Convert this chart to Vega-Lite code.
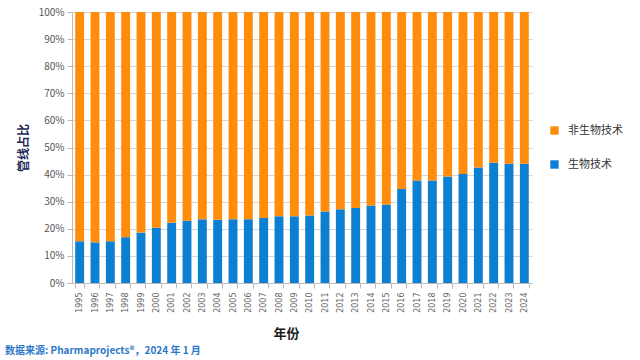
{
  "$schema": "https://vega.github.io/schema/vega-lite/v6.json",
  "autosize": "none",
  "width": 460,
  "height": 271,
  "padding": {"left": 72, "top": 12, "right": 108, "bottom": 77},
  "background": "white",
  "config": {
    "view": {"stroke": null},
    "font": "Noto Sans CJK SC"
  },
  "title": {
    "text": "数据来源: Pharmaprojects®，2024 年 1 月",
    "orient": "bottom",
    "anchor": "start",
    "frame": "group",
    "dx": -67,
    "offset": 6,
    "fontSize": 10,
    "fontWeight": "bold",
    "color": "#2a78c8",
    "font": "Noto Sans CJK SC"
  },
  "data": {
    "values": [
      {"year": "1995", "生物技术": 15.4, "非生物技术": 84.6},
      {"year": "1996", "生物技术": 15.0, "非生物技术": 85.0},
      {"year": "1997", "生物技术": 15.4, "非生物技术": 84.6},
      {"year": "1998", "生物技术": 16.9, "非生物技术": 83.1},
      {"year": "1999", "生物技术": 18.6, "非生物技术": 81.4},
      {"year": "2000", "生物技术": 20.4, "非生物技术": 79.6},
      {"year": "2001", "生物技术": 22.2, "非生物技术": 77.8},
      {"year": "2002", "生物技术": 23.0, "非生物技术": 77.0},
      {"year": "2003", "生物技术": 23.5, "非生物技术": 76.5},
      {"year": "2004", "生物技术": 23.3, "非生物技术": 76.7},
      {"year": "2005", "生物技术": 23.5, "非生物技术": 76.5},
      {"year": "2006", "生物技术": 23.5, "非生物技术": 76.5},
      {"year": "2007", "生物技术": 24.0, "非生物技术": 76.0},
      {"year": "2008", "生物技术": 24.6, "非生物技术": 75.4},
      {"year": "2009", "生物技术": 24.6, "非生物技术": 75.4},
      {"year": "2010", "生物技术": 24.9, "非生物技术": 75.1},
      {"year": "2011", "生物技术": 26.4, "非生物技术": 73.6},
      {"year": "2012", "生物技术": 27.2, "非生物技术": 72.8},
      {"year": "2013", "生物技术": 27.7, "非生物技术": 72.3},
      {"year": "2014", "生物技术": 28.6, "非生物技术": 71.4},
      {"year": "2015", "生物技术": 28.9, "非生物技术": 71.1},
      {"year": "2016", "生物技术": 34.7, "非生物技术": 65.3},
      {"year": "2017", "生物技术": 37.8, "非生物技术": 62.2},
      {"year": "2018", "生物技术": 37.8, "非生物技术": 62.2},
      {"year": "2019", "生物技术": 39.3, "非生物技术": 60.7},
      {"year": "2020", "生物技术": 40.2, "非生物技术": 59.8},
      {"year": "2021", "生物技术": 42.6, "非生物技术": 57.4},
      {"year": "2022", "生物技术": 44.4, "非生物技术": 55.6},
      {"year": "2023", "生物技术": 44.0, "非生物技术": 56.0},
      {"year": "2024", "生物技术": 44.0, "非生物技术": 56.0}
    ]
  },
  "transform": [
    {"fold": ["生物技术", "非生物技术"], "as": ["type", "share"]}
  ],
  "mark": {"type": "bar"},
  "encoding": {
    "x": {
      "field": "year",
      "type": "ordinal",
      "scale": {"paddingInner": 0.42, "paddingOuter": 0.21},
      "axis": {
        "title": "年份",
        "titleX": 214,
        "titleFontSize": 13,
        "titleFontWeight": "bold",
        "titleColor": "#1a1a1a",
        "titlePadding": 15,
        "labelAngle": -90,
        "labelFontSize": 8,
        "labelColor": "#666666",
        "labelFont": "DejaVu Sans",
        "tickBand": "extent",
        "tickColor": "#bbbbbb",
        "domainColor": "#bbbbbb",
        "labelPadding": 4
      }
    },
    "y": {
      "field": "share",
      "type": "quantitative",
      "stack": "zero",
      "scale": {"domain": [0, 100], "nice": false},
      "axis": {
        "title": "管线占比",
        "titleFontSize": 12,
        "titleFontWeight": "bold",
        "titleColor": "#1f2a5a",
        "titlePadding": 8,
        "values": [0, 10, 20, 30, 40, 50, 60, 70, 80, 90, 100],
        "labelExpr": "datum.value + '%'",
        "labelFontSize": 10,
        "labelColor": "#555555",
        "gridColor": "#d6d6d6",
        "tickColor": "#bbbbbb",
        "domainColor": "#bbbbbb",
        "labelPadding": 3
      }
    },
    "color": {
      "field": "type",
      "type": "nominal",
      "scale": {"domain": ["非生物技术", "生物技术"], "range": ["#ff8c0a", "#0b7fd1"]},
      "legend": {
        "title": null,
        "orient": "none",
        "legendX": 477,
        "legendY": 113,
        "symbolType": "square",
        "symbolSize": 70,
        "labelFontSize": 11,
        "labelColor": "#333333",
        "rowPadding": 22,
        "labelOffset": 8
      }
    },
    "order": {"field": "type", "sort": "ascending"}
  }
}
